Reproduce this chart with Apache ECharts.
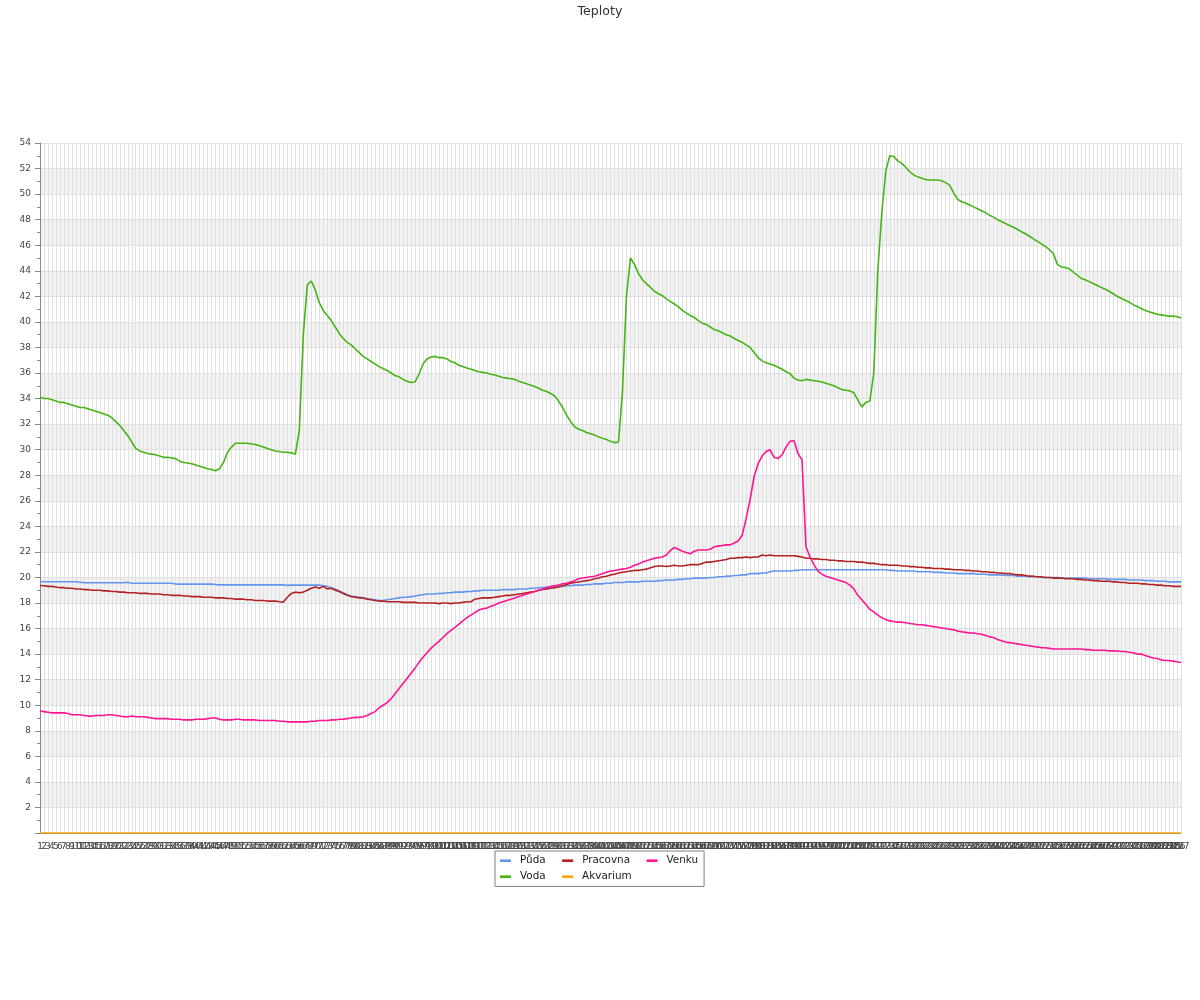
<!DOCTYPE html>
<html>
<head>
<meta charset="utf-8">
<script src="https://cdn.jsdelivr.net/npm/echarts@6/dist/echarts.min.js"></script>
<style>
html,body{margin:0;padding:0;background:#fff;}
#chart{width:1200px;height:1000px;}
</style>
</head>
<body>
<div id="chart"></div>
<script>
const categories = ['1','2','3','4','5','6','7','8','9','10','11','12','13','14','15','16','17','18','19','20','21','22','23','24','25','26','27','28','29','30','31','32','33','34','35','36','37','38','39','40','41','42','43','44','45','46','47','48','49','50','51','52','53','54','55','56','57','58','59','60','61','62','63','64','65','66','67','68','69','70','71','72','73','74','75','76','77','78','79','80','81','82','83','84','85','86','87','88','89','90','91','92','93','94','95','96','97','98','99','100','101','102','103','104','105','106','107','108','109','110','111','112','113','114','115','116','117','118','119','120','121','122','123','124','125','126','127','128','129','130','131','132','133','134','135','136','137','138','139','140','141','142','143','144','145','146','147','148','149','150','151','152','153','154','155','156','157','158','159','160','161','162','163','164','165','166','167','168','169','170','171','172','173','174','175','176','177','178','179','180','181','182','183','184','185','186','187','188','189','190','191','192','193','194','195','196','197','198','199','200','201','202','203','204','205','206','207','208','209','210','211','212','213','214','215','216','217','218','219','220','221','222','223','224','225','226','227','228','229','230','231','232','233','234','235','236','237','238','239','240','241','242','243','244','245','246','247','248','249','250','251','252','253','254','255','256','257','258','259','260','261','262','263','264','265','266','267','268','269','270','271','272','273','274','275','276','277','278','279','280','281','282','283','284','285','286','287'];

const puda = [
19.66,19.66,19.66,19.66,19.66,19.66,19.66,19.66,19.66,19.66,
19.62,19.58,19.58,19.58,19.58,19.58,19.58,19.58,19.58,19.58,
19.58,19.58,19.62,19.55,19.55,19.55,19.55,19.55,19.55,19.55,
19.55,19.55,19.55,19.55,19.48,19.48,19.48,19.48,19.48,19.48,
19.48,19.48,19.48,19.48,19.45,19.42,19.42,19.42,19.42,19.42,
19.42,19.42,19.42,19.42,19.42,19.42,19.42,19.42,19.42,19.42,
19.42,19.42,19.38,19.4,19.4,19.4,19.4,19.4,19.4,19.4,
19.4,19.35,19.3,19.2,19.1,18.95,18.8,18.65,18.55,18.5,
18.45,18.4,18.35,18.3,18.25,18.2,18.2,18.25,18.3,18.35,
18.4,18.45,18.45,18.5,18.55,18.6,18.65,18.7,18.7,18.7,
18.75,18.75,18.8,18.8,18.85,18.85,18.85,18.9,18.9,18.95,
18.95,19.0,19.0,19.0,19.0,19.0,19.05,19.05,19.05,19.05,
19.1,19.1,19.1,19.15,19.15,19.2,19.2,19.25,19.25,19.3,
19.3,19.3,19.35,19.35,19.4,19.4,19.4,19.45,19.45,19.5,
19.5,19.5,19.55,19.55,19.6,19.6,19.6,19.65,19.65,19.65,
19.65,19.7,19.7,19.7,19.7,19.75,19.75,19.8,19.8,19.8,
19.85,19.85,19.9,19.9,19.95,19.95,19.95,19.95,20.0,20.0,
20.05,20.05,20.1,20.1,20.15,20.15,20.2,20.2,20.3,20.3,
20.3,20.35,20.35,20.45,20.5,20.5,20.5,20.5,20.5,20.55,
20.55,20.6,20.6,20.6,20.6,20.6,20.6,20.6,20.6,20.6,
20.6,20.6,20.6,20.6,20.6,20.6,20.6,20.6,20.6,20.6,
20.6,20.6,20.6,20.55,20.55,20.5,20.5,20.5,20.5,20.5,
20.45,20.45,20.45,20.45,20.4,20.4,20.4,20.35,20.35,20.35,
20.3,20.3,20.3,20.3,20.3,20.25,20.25,20.25,20.2,20.2,
20.2,20.2,20.15,20.15,20.15,20.1,20.1,20.1,20.05,20.05,
20.05,20.0,20.0,20.0,20.0,20.0,19.95,19.95,19.95,19.95,
19.95,19.95,19.95,19.9,19.9,19.9,19.9,19.9,19.85,19.85,
19.85,19.85,19.85,19.8,19.8,19.8,19.8,19.75,19.75,19.75,
19.7,19.7,19.7,19.65,19.65,19.65,19.65
];

const pracovna = [
19.37,19.35,19.3,19.3,19.25,19.2,19.2,19.15,19.15,19.1,
19.1,19.05,19.05,19.0,19.0,19.0,18.95,18.95,18.9,18.9,
18.85,18.85,18.8,18.8,18.8,18.75,18.75,18.75,18.7,18.7,
18.7,18.65,18.65,18.6,18.6,18.6,18.55,18.55,18.5,18.5,
18.5,18.45,18.45,18.45,18.4,18.4,18.4,18.35,18.35,18.3,
18.3,18.3,18.25,18.25,18.2,18.2,18.2,18.15,18.15,18.15,
18.1,18.07,18.45,18.75,18.85,18.8,18.85,19.0,19.15,19.25,
19.15,19.3,19.1,19.15,19.0,18.9,18.75,18.6,18.5,18.45,
18.4,18.4,18.3,18.25,18.2,18.15,18.15,18.1,18.1,18.1,
18.1,18.05,18.05,18.05,18.05,18.0,18.0,18.0,18.0,18.0,
17.95,18.0,18.0,17.95,18.0,18.0,18.05,18.1,18.1,18.3,
18.35,18.4,18.4,18.4,18.45,18.5,18.55,18.6,18.6,18.65,
18.7,18.75,18.8,18.85,18.9,19.0,19.05,19.1,19.15,19.2,
19.25,19.35,19.45,19.55,19.6,19.65,19.7,19.75,19.8,19.9,
19.95,20.05,20.1,20.2,20.25,20.35,20.4,20.45,20.5,20.55,
20.55,20.6,20.65,20.75,20.85,20.9,20.9,20.85,20.9,20.95,
20.9,20.9,20.95,21.0,21.0,21.0,21.1,21.2,21.2,21.25,
21.3,21.35,21.4,21.5,21.5,21.55,21.55,21.6,21.55,21.6,
21.6,21.75,21.7,21.75,21.7,21.7,21.7,21.7,21.7,21.7,
21.65,21.6,21.5,21.5,21.45,21.45,21.4,21.4,21.35,21.35,
21.3,21.3,21.25,21.25,21.25,21.2,21.2,21.15,21.1,21.1,
21.05,21.0,21.0,20.95,20.95,20.95,20.9,20.9,20.85,20.85,
20.8,20.8,20.75,20.75,20.7,20.7,20.7,20.65,20.65,20.6,
20.6,20.6,20.55,20.55,20.5,20.5,20.45,20.45,20.4,20.4,
20.35,20.35,20.3,20.3,20.25,20.2,20.2,20.15,20.1,20.1,
20.05,20.05,20.0,20.0,19.95,19.95,19.95,19.9,19.9,19.9,
19.85,19.85,19.8,19.8,19.75,19.75,19.7,19.7,19.7,19.65,
19.65,19.6,19.6,19.55,19.55,19.55,19.5,19.5,19.45,19.45,
19.4,19.4,19.35,19.35,19.3,19.3,19.3
];

const venku = [
9.55,9.5,9.45,9.4,9.4,9.4,9.4,9.35,9.25,9.25,
9.25,9.2,9.15,9.15,9.2,9.2,9.2,9.25,9.25,9.2,
9.15,9.1,9.1,9.15,9.1,9.1,9.1,9.05,9.0,8.95,
8.95,8.95,8.95,8.9,8.9,8.9,8.85,8.85,8.85,8.9,
8.9,8.9,8.95,9.0,9.0,8.9,8.85,8.85,8.85,8.9,
8.9,8.85,8.85,8.85,8.85,8.8,8.8,8.8,8.8,8.8,
8.75,8.75,8.7,8.7,8.7,8.7,8.7,8.7,8.75,8.75,
8.8,8.8,8.8,8.85,8.85,8.9,8.9,8.95,9.0,9.05,
9.05,9.1,9.2,9.35,9.5,9.8,10.0,10.2,10.5,10.9,
11.3,11.7,12.1,12.5,12.9,13.35,13.75,14.1,14.45,14.75,
15.0,15.3,15.6,15.85,16.1,16.35,16.6,16.85,17.05,17.25,
17.45,17.55,17.6,17.75,17.85,18.0,18.1,18.2,18.3,18.4,
18.5,18.6,18.7,18.8,18.9,19.0,19.1,19.2,19.3,19.35,
19.4,19.5,19.55,19.65,19.75,19.9,19.95,20.0,20.05,20.1,
20.2,20.3,20.4,20.5,20.55,20.6,20.65,20.7,20.8,20.95,
21.05,21.2,21.3,21.4,21.5,21.55,21.6,21.75,22.1,22.35,
22.2,22.05,21.95,21.85,22.05,22.15,22.15,22.15,22.2,22.4,
22.45,22.5,22.55,22.55,22.7,22.85,23.3,24.6,26.1,27.9,
28.9,29.5,29.85,30.0,29.4,29.3,29.6,30.2,30.65,30.7,
29.7,29.2,22.4,21.6,21.0,20.5,20.25,20.1,20.0,19.9,
19.8,19.7,19.6,19.4,19.1,18.6,18.25,17.9,17.5,17.3,
17.05,16.85,16.7,16.6,16.55,16.5,16.5,16.45,16.4,16.35,
16.3,16.3,16.25,16.2,16.15,16.1,16.05,16.0,15.95,15.9,
15.8,15.75,15.7,15.65,15.65,15.6,15.55,15.45,15.35,15.3,
15.15,15.05,14.95,14.9,14.85,14.8,14.75,14.7,14.65,14.6,
14.55,14.5,14.5,14.45,14.4,14.4,14.4,14.4,14.4,14.4,
14.4,14.4,14.35,14.35,14.3,14.3,14.3,14.3,14.25,14.25,
14.25,14.2,14.2,14.15,14.1,14.0,14.0,13.9,13.8,13.7,
13.65,13.55,13.5,13.5,13.45,13.4,13.35
];

const voda = [
34.1,34.0,34.0,33.9,33.8,33.7,33.7,33.6,33.5,33.4,
33.3,33.3,33.2,33.1,33.0,32.9,32.8,32.7,32.5,32.2,
31.9,31.5,31.1,30.6,30.1,29.9,29.8,29.7,29.65,29.6,
29.5,29.4,29.4,29.35,29.3,29.1,29.0,28.95,28.9,28.8,
28.7,28.6,28.5,28.45,28.35,28.5,29.0,29.8,30.2,30.5,
30.5,30.5,30.5,30.45,30.4,30.3,30.2,30.1,30.0,29.9,
29.85,29.8,29.8,29.75,29.65,31.5,39.0,42.9,43.2,42.5,
41.5,40.9,40.5,40.1,39.6,39.1,38.7,38.4,38.2,37.9,
37.6,37.3,37.1,36.9,36.7,36.5,36.35,36.2,36.0,35.8,
35.7,35.5,35.35,35.25,35.3,35.9,36.7,37.1,37.25,37.3,
37.2,37.2,37.1,36.9,36.8,36.6,36.5,36.4,36.3,36.2,
36.1,36.05,36.0,35.9,35.85,35.75,35.65,35.6,35.55,35.5,
35.35,35.25,35.15,35.05,34.95,34.8,34.65,34.55,34.4,34.2,
33.8,33.3,32.7,32.2,31.8,31.6,31.5,31.35,31.25,31.15,
31.0,30.9,30.8,30.65,30.55,30.6,34.5,42.0,45.0,44.5,
43.8,43.3,43.0,42.7,42.4,42.2,42.05,41.8,41.6,41.4,
41.2,40.9,40.7,40.5,40.35,40.1,39.9,39.8,39.6,39.4,
39.3,39.15,39.0,38.9,38.7,38.55,38.4,38.2,38.0,37.6,
37.2,36.95,36.8,36.7,36.6,36.45,36.3,36.1,35.95,35.6,
35.45,35.4,35.5,35.45,35.4,35.35,35.3,35.2,35.1,35.0,
34.85,34.7,34.65,34.6,34.45,33.9,33.35,33.7,33.8,36.0,
44.0,48.5,51.8,53.0,52.95,52.6,52.4,52.1,51.75,51.5,
51.35,51.25,51.15,51.1,51.1,51.1,51.05,50.9,50.7,50.1,
49.6,49.4,49.3,49.15,49.0,48.85,48.7,48.55,48.35,48.2,
48.0,47.85,47.7,47.55,47.4,47.25,47.05,46.9,46.7,46.5,
46.3,46.1,45.9,45.65,45.35,44.5,44.3,44.25,44.15,43.9,
43.65,43.4,43.3,43.15,43.0,42.85,42.7,42.55,42.4,42.2,
42.0,41.85,41.7,41.55,41.35,41.2,41.05,40.9,40.8,40.7,
40.6,40.55,40.5,40.45,40.45,40.4,40.3
];

const akvarium = [
0,0,0,0,0,0,0,0,0,0,0,0,0,0,0,0,0,0,0,0,0,0,0,0,0,0,0,0,0,0,
0,0,0,0,0,0,0,0,0,0,0,0,0,0,0,0,0,0,0,0,0,0,0,0,0,0,0,0,0,0,
0,0,0,0,0,0,0,0,0,0,0,0,0,0,0,0,0,0,0,0,0,0,0,0,0,0,0,0,0,0,
0,0,0,0,0,0,0,0,0,0,0,0,0,0,0,0,0,0,0,0,0,0,0,0,0,0,0,0,0,0,
0,0,0,0,0,0,0,0,0,0,0,0,0,0,0,0,0,0,0,0,0,0,0,0,0,0,0,0,0,0,
0,0,0,0,0,0,0,0,0,0,0,0,0,0,0,0,0,0,0,0,0,0,0,0,0,0,0,0,0,0,
0,0,0,0,0,0,0,0,0,0,0,0,0,0,0,0,0,0,0,0,0,0,0,0,0,0,0,0,0,0,
0,0,0,0,0,0,0,0,0,0,0,0,0,0,0,0,0,0,0,0,0,0,0,0,0,0,0,0,0,0,
0,0,0,0,0,0,0,0,0,0,0,0,0,0,0,0,0,0,0,0,0,0,0,0,0,0,0,0,0,0,
0,0,0,0,0,0,0,0,0,0,0,0,0,0,0,0,0
];

const seriesNames = ['Půda', 'Pracovna', 'Venku', 'Voda', 'Akvarium'];
const seriesColors = ['#6495ED', '#B22222', '#FF1493', '#46B414', '#FFA500'];
const seriesData = [puda, pracovna, venku, voda, akvarium];

const chart = echarts.init(document.getElementById('chart'), null, {renderer: 'canvas'});

const txtBase = {fontFamily: 'DejaVu Sans', fontSize: 10.4, lineHeight: 12, color: '#222'};
const legendData = seriesNames.map(function (n, i) {
  const lastInRow = (i === 2 || i === 4);
  return {name: n, textStyle: Object.assign({}, txtBase, {padding: lastInRow ? [0, 0, 0, 4] : [0, 12.5, 0, 4]})};
});

chart.setOption({
  animation: false,
  backgroundColor: '#ffffff',
  title: {
    text: 'Teploty',
    left: 'center',
    top: 0,
    textStyle: {fontFamily: 'DejaVu Sans', fontSize: 12.6, fontWeight: 'normal', color: '#333'}
  },
  legend: {
    left: 495,
    top: 851,
    width: 202,
    orient: 'horizontal',
    padding: [3.7, 6, 3.7, 5],
    itemGap: 4,
    itemWidth: 11,
    itemHeight: 2.6,
    icon: 'rect',
    borderColor: '#808080',
    borderWidth: 1,
    textStyle: txtBase,
    data: legendData
  },
  grid: {left: 40, right: 19, top: 143, bottom: 167, containLabel: false},
  xAxis: {
    type: 'category',
    data: categories,
    boundaryGap: false,
    axisLine: {show: true, lineStyle: {color: '#888'}},
    axisTick: {show: false},
    axisLabel: {interval: 0, fontFamily: 'DejaVu Sans', fontSize: 9, color: '#444', margin: 9, hideOverlap: false},
    splitLine: {show: true, interval: 0, lineStyle: {color: '#e0e0e0', width: 1}}
  },
  yAxis: {
    type: 'value',
    min: 0,
    max: 54,
    interval: 2,
    axisLine: {show: true, lineStyle: {color: '#888'}},
    axisTick: {show: true, length: 5, lineStyle: {color: '#888'}},
    minorTick: {show: true, splitNumber: 2, length: 3, lineStyle: {color: '#888'}},
    axisLabel: {fontFamily: 'DejaVu Sans', fontSize: 9, color: '#444', margin: 9, showMinLabel: false},
    splitLine: {show: true, lineStyle: {color: '#e0e0e0', width: 1}},
    splitArea: {show: true, areaStyle: {color: ['rgba(255,255,255,0)', '#f2f2f2']}}
  },
  series: seriesNames.map(function (n, i) {
    return {
      name: n,
      type: 'line',
      data: seriesData[i],
      showSymbol: false,
      symbol: 'none',
      smooth: false,
      color: seriesColors[i],
      lineStyle: {width: 1.6, color: seriesColors[i]},
      z: i === 4 ? 5 : 3
    };
  })
});
</script>
</body>
</html>
